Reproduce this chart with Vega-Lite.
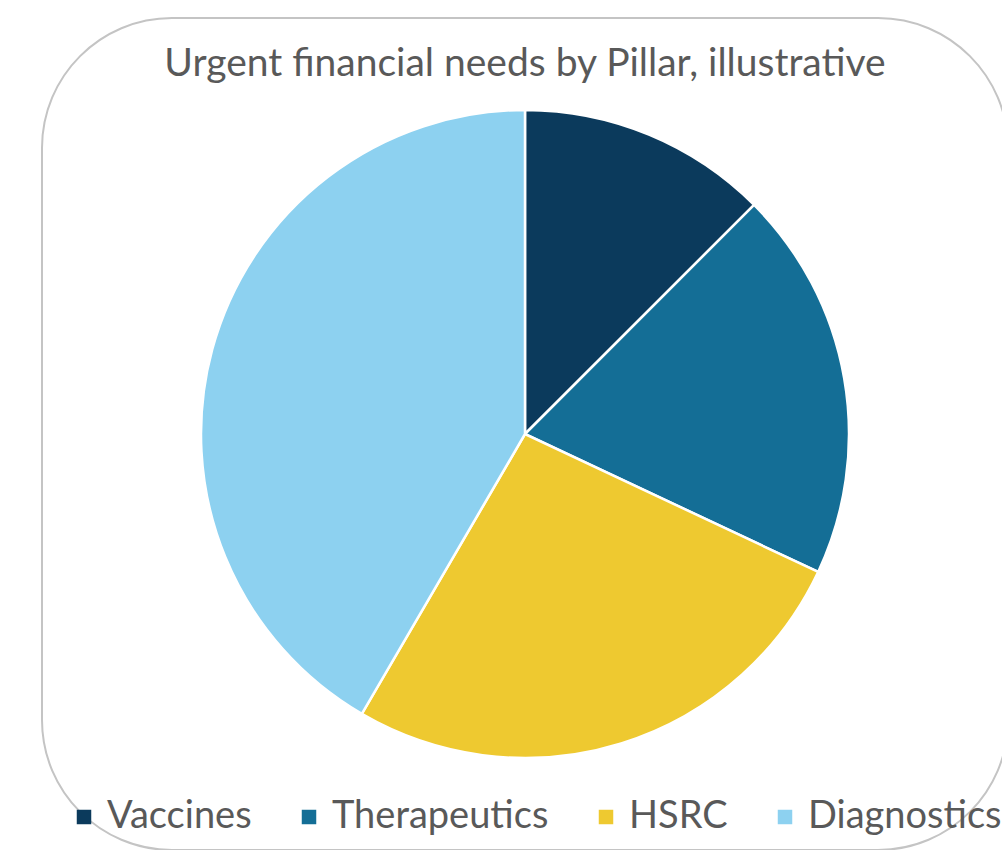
{
  "$schema": "https://vega.github.io/schema/vega-lite/v6.json",
  "width": 966,
  "height": 832,
  "autosize": "none",
  "padding": {"left": 42, "top": 18, "right": 0, "bottom": 0},
  "background": "white",
  "view": {"fill": "white", "stroke": "#c4c4c4", "strokeWidth": 2, "cornerRadius": 130},
  "title": {
    "text": "Urgent financial needs by Pillar, illustrative",
    "orient": "top",
    "anchor": "middle",
    "baseline": "alphabetic",
    "offset": -97,
    "font": "Lato",
    "fontSize": 39,
    "fontWeight": "normal",
    "color": "#595959"
  },
  "data": {
    "values": [
      {"pillar": "Vaccines", "share": 12.5, "rank": 1},
      {"pillar": "Therapeutics", "share": 19.5, "rank": 2},
      {"pillar": "HSRC", "share": 26.4, "rank": 3},
      {"pillar": "Diagnostics", "share": 41.6, "rank": 4}
    ]
  },
  "mark": {"type": "arc", "outerRadius": 324, "stroke": "white", "strokeWidth": 2.5},
  "encoding": {
    "theta": {"field": "share", "type": "quantitative", "stack": true},
    "order": {"field": "rank", "type": "quantitative"},
    "color": {
      "field": "pillar",
      "type": "nominal",
      "sort": null,
      "scale": {
        "domain": ["Vaccines", "Therapeutics", "HSRC", "Diagnostics"],
        "range": ["#0b3a5c", "#146e96", "#eec930", "#8dd1f0"]
      },
      "legend": {
        "title": null,
        "orient": "none",
        "direction": "horizontal",
        "legendX": 23,
        "legendY": 780,
        "symbolType": "square",
        "symbolSize": 210,
        "symbolStrokeWidth": 0,
        "labelFont": "Lato",
        "labelFontSize": 38,
        "labelColor": "#595959",
        "labelOffset": 4,
        "columnPadding": 38,
        "labelLimit": 400
      }
    }
  }
}
